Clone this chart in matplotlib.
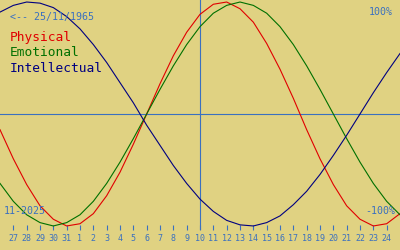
import matplotlib
matplotlib.use('Agg')
from matplotlib import pyplot as plt

# biorhythm values per day, 26 Oct .. 25 Nov 2025
days = list(range(31))
physical = [-0.14, -0.40, -0.63, -0.82, -0.94, -1.00, -0.98, -0.89, -0.73, -0.52, -0.27,
            0.00, 0.27, 0.52, 0.73, 0.89, 0.98, 1.00, 0.94, 0.82, 0.63, 0.40, 0.14,
            -0.14, -0.40, -0.63, -0.82, -0.94, -1.00, -0.98, -0.89]
emotional = [-0.62, -0.78, -0.90, -0.97, -1.00, -0.97, -0.90, -0.78, -0.62, -0.43, -0.22,
             0.00, 0.22, 0.43, 0.62, 0.78, 0.90, 0.97, 1.00, 0.97, 0.90, 0.78, 0.62,
             0.43, 0.22, 0.00, -0.22, -0.43, -0.62, -0.78, -0.90]
intellectual = [0.91, 0.97, 1.00, 0.99, 0.95, 0.87, 0.76, 0.62, 0.46, 0.28, 0.10,
                -0.10, -0.28, -0.46, -0.62, -0.76, -0.87, -0.95, -0.99, -1.00, -0.97,
                -0.91, -0.81, -0.69, -0.54, -0.37, -0.19, 0.00, 0.19, 0.37, 0.54]
tick_pos = list(range(1, 30))
tick_labels = ['27', '28', '29', '30', '31'] + [str(d) for d in range(1, 25)]
today = 15
birth = '<-- 25/11/1965'
month = '11-2025'

bg = '#e0d282'
blue = '#3a70c0'
mono = 'DejaVu Sans Mono'

fig = plt.figure(figsize=(4, 2.5), dpi=100, facecolor=bg)
ax = fig.add_axes([0, 20 / 250, 1, 230 / 250])
ax.set_facecolor(bg)
for s in ax.spines.values():
    s.set_visible(False)

ax.axhline(0, color=blue, lw=0.8, zorder=1)
ax.axvline(today, color=blue, lw=0.8, zorder=1)

ax.plot(days, physical, color='#e00000', lw=0.8, zorder=2)
ax.plot(days, emotional, color='#007000', lw=0.8, zorder=2)
ax.plot(days, intellectual, color='#000080', lw=0.8, zorder=2)

ax.set_xlim(0, 30)
ax.set_ylim(-1.036, 1.018)
ax.set_yticks([])
ax.set_xticks(tick_pos)
ax.set_xticklabels(tick_labels, family=mono, fontsize=6, color=blue)
ax.tick_params(axis='x', direction='in', length=3.6, width=0.8, color=blue, pad=3)

ax.text(10 / 400, 1 - 17 / 230, birth, transform=ax.transAxes, family=mono,
        fontsize=7.2, color=blue, va='center', ha='left')
ax.text(393 / 400, 1 - 12 / 230, '100%', transform=ax.transAxes, family=mono,
        fontsize=7.2, color=blue, va='center', ha='right')
ax.text(4 / 400, 1 - 211 / 230, month, transform=ax.transAxes, family=mono,
        fontsize=7.2, color=blue, va='center', ha='left')
ax.text(395 / 400, 1 - 211 / 230, '-100%', transform=ax.transAxes, family=mono,
        fontsize=7.2, color=blue, va='center', ha='right')

for lbl, c, y in [('Physical', '#e00000', 38), ('Emotional', '#007000', 53),
                  ('Intellectual', '#000080', 68)]:
    ax.text(10 / 400, 1 - y / 230, lbl, transform=ax.transAxes, family=mono,
            fontsize=9.3, color=c, va='center', ha='left')

fig.savefig('out.png', dpi=100, facecolor=bg)
